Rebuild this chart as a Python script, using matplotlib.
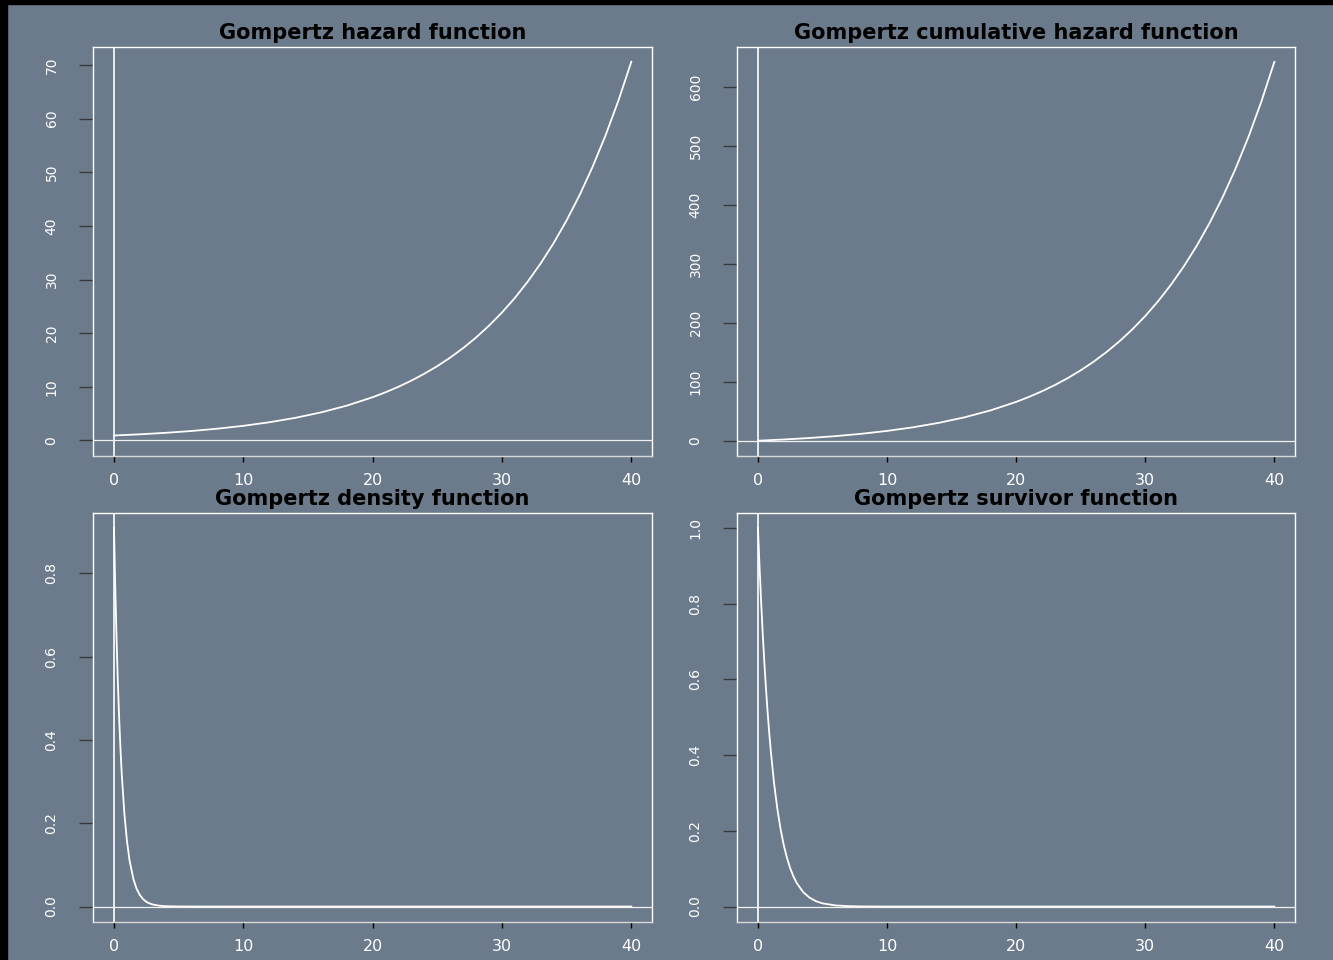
import matplotlib
matplotlib.use("Agg")
import matplotlib.pyplot as plt
from matplotlib.patches import Rectangle

# ---------------- data ----------------
hazard_time = [0, 2, 4, 6, 8, 10, 12, 14, 16, 18, 20, 21, 22, 23, 24, 25, 26, 27,
               28, 29, 30, 31, 32, 33, 34, 35, 36, 37, 38, 39, 40]
hazard_values = [0.92, 1.143, 1.420, 1.764, 2.192, 2.723, 3.383, 4.203, 5.221, 6.486,
                 8.058, 8.982, 10.01, 11.16, 12.44, 13.86, 15.45, 17.22, 19.20, 21.40,
                 23.85, 26.58, 29.63, 33.03, 36.81, 41.03, 45.73, 50.97, 56.82, 63.33,
                 70.59]
cumhaz_values = [0.0, 2.055, 4.608, 7.780, 11.72, 16.62, 22.70, 30.25, 39.64, 51.30,
                 65.79, 74.31, 83.79, 94.37, 106.16, 119.29, 133.94, 150.26, 168.45,
                 188.73, 211.33, 236.53, 264.61, 295.91, 330.79, 369.68, 413.02,
                 461.33, 515.17, 575.19, 642.08]

density_time = [0, 0.1, 0.2, 0.3, 0.4, 0.5, 0.6, 0.8, 1.0, 1.2, 1.5, 1.75, 2.0, 2.25,
                2.5, 2.75, 3.0, 3.5, 4.0, 5.0, 6.0, 8.0, 10, 20, 30, 40]
density_values = [0.909, 0.763, 0.641, 0.538, 0.451, 0.379, 0.318, 0.224, 0.158, 0.111,
                  0.0659, 0.0425, 0.0275, 0.0177, 0.0114, 0.0074, 0.0048, 0.0020,
                  0.0008, 0.00015, 0.00003, 0.0, 0.0, 0.0, 0.0, 0.0]

survivor_time = [0, 0.125, 0.25, 0.375, 0.5, 0.625, 0.75, 0.875, 1.0, 1.25, 1.5, 1.75,
                 2.0, 2.25, 2.5, 2.75, 3.0, 3.5, 4.0, 4.5, 5.0, 6.0, 7.0, 8.0, 10, 20,
                 30, 40]
survivor_values = [1.0, 0.8956, 0.8018, 0.7174, 0.6416, 0.5736, 0.5125, 0.4577, 0.4086,
                   0.3252, 0.2583, 0.2048, 0.1620, 0.1280, 0.1009, 0.0794, 0.0623,
                   0.0382, 0.0233, 0.0141, 0.0084, 0.0030, 0.0010, 0.0003, 0.0, 0.0,
                   0.0, 0.0]

titles = ["Gompertz hazard function", "Gompertz cumulative hazard function",
          "Gompertz density function", "Gompertz survivor function"]
x_ticks = [0, 10, 20, 30, 40]
x_tick_labels = ["0", "10", "20", "30", "40"]
hazard_ticks = [0, 10, 20, 30, 40, 50, 60, 70]
cumhaz_ticks = [0, 100, 200, 300, 400, 500, 600]
density_ticks = [0.0, 0.2, 0.4, 0.6, 0.8]
survivor_ticks = [0.0, 0.2, 0.4, 0.6, 0.8, 1.0]

# ---------------- styling ----------------
BG = "#6C7B8B"
W, H = 1333, 960
plt.rcParams['font.family'] = ['DejaVu Sans']

fig = plt.figure(figsize=(W / 100, H / 100), dpi=100, facecolor=BG)


def px_axes(l, t, r, b):
    return fig.add_axes([l / W, 1 - b / H, (r - l) / W, (b - t) / H])


panels = [
    (px_axes(93.3, 46.7, 652, 456), hazard_time, hazard_values, (-2.9, 73.4),
     hazard_ticks, [str(v) for v in hazard_ticks]),
    (px_axes(737.3, 46.7, 1295, 456), hazard_time, cumhaz_values, (-25.9, 667.8),
     cumhaz_ticks, [str(v) for v in cumhaz_ticks]),
    (px_axes(93.3, 512.7, 652, 921.7), density_time, density_values, (-0.0364, 0.9454),
     density_ticks, ["%.1f" % v for v in density_ticks]),
    (px_axes(737.3, 512.7, 1295, 921.7), survivor_time, survivor_values, (-0.04, 1.04),
     survivor_ticks, ["%.1f" % v for v in survivor_ticks]),
]

for (ax, xs, ys, ylim, yt, ytl), title in zip(panels, titles):
    ax.set_facecolor(BG)
    ax.plot(xs, ys, color="white", lw=1.3, solid_joinstyle="round")
    ax.axvline(0, color="white", lw=1.2)
    ax.axhline(0, color="#f0f0f0", lw=0.9)
    ax.set_xlim(-1.6, 41.6)
    ax.set_ylim(*ylim)
    for s in ax.spines.values():
        s.set_color("white")
        s.set_linewidth(1.0)
    ax.spines["bottom"].set_color("#d8d8d8")
    ax.set_xticks(x_ticks, x_tick_labels)
    ax.set_yticks(yt, ytl, rotation=90, va="center")
    ax.tick_params(axis="x", direction="out", length=4.3, width=1.0, color="black",
                   labelcolor="white", labelsize=11.5, pad=8)
    ax.tick_params(axis="y", direction="out", length=10, width=1.0, color="#3a3a3a",
                   labelcolor="white", labelsize=10, pad=15)
    ax.annotate(title, xy=(0.5, 1), xycoords="axes fraction", xytext=(0, 5.8),
                textcoords="offset points", ha="center", va="baseline",
                fontsize=15, fontweight="bold", color="black")

# dark bands along the top and left edge of the image
fig.add_artist(Rectangle((0, 1 - 4 / H), 1, 4 / H, transform=fig.transFigure,
                         color="black", zorder=10))
fig.add_artist(Rectangle((0, 0), 7 / W, 1, transform=fig.transFigure,
                         color="black", zorder=10))

fig.savefig("out.png", dpi=100, facecolor=BG)
